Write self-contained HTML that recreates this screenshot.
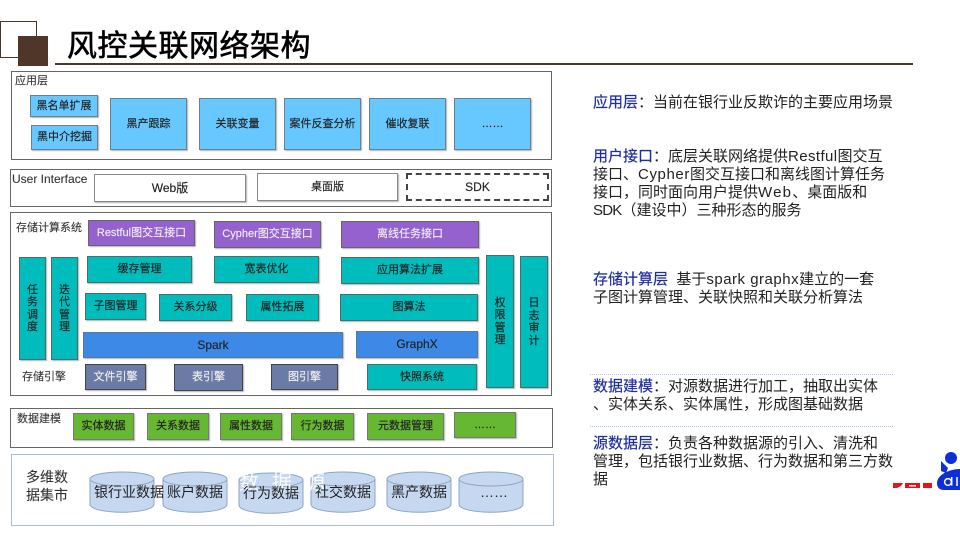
<!DOCTYPE html>
<html lang="zh">
<head>
<meta charset="utf-8">
<style>
html,body{margin:0;padding:0;background:#fff}
#p{position:relative;width:960px;height:540px;overflow:hidden;background:#fff;font-family:"Liberation Sans","Noto Sans CJK SC",sans-serif;color:#222;filter:blur(.3px)}
.b{position:absolute;box-sizing:border-box;display:flex;align-items:center;justify-content:center;font-size:11px;text-align:center;line-height:13px;box-shadow:1px 1px 1px rgba(0,0,0,.3);-webkit-text-stroke:.15px currentColor}
.l{font-size:12px}
.f{position:absolute;box-sizing:border-box;border:1px solid #666}
.t{position:absolute;font-size:11px;line-height:14px;white-space:nowrap;color:#333;-webkit-text-stroke:.1px currentColor}
.blue{background:#66c8ff;border:1px solid #6b7f8c}
.w{background:#fff;border:1px solid #888}
.pu{background:#9461cf;border:1px solid #666;color:#eee}
.te{background:#00bdbd;border:1px solid #4d6d6d}
.sp{background:#3c89e8;border:1px solid #5b7894}
.gr{background:#6a7ba6;border:1px solid #444;color:#eee}
.gn{background:#66b832;border:1px solid #777}
.v{width:12px;line-height:12.5px;white-space:normal}
.r{position:absolute;left:593px;font-size:15px;line-height:18px;white-space:nowrap;color:#222}
.r b{font-weight:normal;color:#1f2f9e;-webkit-text-stroke:.2px #1f2f9e}
.dot{position:absolute;left:590px;width:303px;height:0;border-top:1px dotted #a9c3e6}
.c{position:absolute;font-size:14px;line-height:18px;white-space:nowrap;color:#222}
</style>
</head>
<body>
<div id="p">
<div style="position:absolute;left:0;top:21px;width:37px;height:37px;box-sizing:border-box;border:1px solid #4f3629"></div>
<div style="position:absolute;left:18px;top:36px;width:30px;height:30px;background:#4f3629"></div>
<div style="position:absolute;left:55px;top:63px;width:858px;height:2px;background:#4f3629"></div>
<div style="position:absolute;left:67px;top:29px;font-size:30px;line-height:36px;letter-spacing:.5px;color:#000;white-space:nowrap;-webkit-text-stroke:.6px #000">风控关联网络架构</div>

<div class="f" style="left:11px;top:71px;width:541px;height:89px"></div>
<div class="t" style="left:15px;top:74px">应用层</div>
<div class="b blue" style="left:30px;top:95px;width:68px;height:22px">黑名单扩展</div>
<div class="b blue" style="left:31px;top:125px;width:67px;height:25px">黑中介挖掘</div>
<div class="b blue" style="left:110px;top:98px;width:77px;height:52px">黑产跟踪</div>
<div class="b blue" style="left:199px;top:98px;width:77px;height:52px">关联变量</div>
<div class="b blue" style="left:284px;top:98px;width:77px;height:52px">案件反查分析</div>
<div class="b blue" style="left:369px;top:98px;width:77px;height:52px">催收复联</div>
<div class="b blue" style="left:454px;top:98px;width:77px;height:52px">……</div>

<div class="f" style="left:10px;top:169px;width:542px;height:38px"></div>
<div class="t" style="left:12px;top:172px;font-size:12px">User Interface</div>
<div class="b w l" style="left:94px;top:174px;width:152px;height:28px">Web版</div>
<div class="b w" style="left:257px;top:173px;width:141px;height:28px">桌面版</div>
<div class="b l" style="left:406px;top:173px;width:143px;height:28px;border:2px dashed #444;box-shadow:none">SDK</div>

<div class="f" style="left:10px;top:212px;width:542px;height:184px"></div>
<div class="t" style="left:16px;top:221px">存储计算系统</div>
<div class="b pu" style="left:88px;top:220px;width:107px;height:26px">Restful图交互接口</div>
<div class="b pu" style="left:214px;top:221px;width:107px;height:27px">Cypher图交互接口</div>
<div class="b pu" style="left:341px;top:221px;width:138px;height:27px">离线任务接口</div>
<div class="b te" style="left:19px;top:257px;width:27px;height:103px"><span class="v">任务调度</span></div>
<div class="b te" style="left:51px;top:257px;width:27px;height:103px"><span class="v">迭代管理</span></div>
<div class="b te" style="left:87px;top:256px;width:105px;height:27px">缓存管理</div>
<div class="b te" style="left:214px;top:256px;width:105px;height:27px">宽表优化</div>
<div class="b te" style="left:341px;top:257px;width:138px;height:27px">应用算法扩展</div>
<div class="b te" style="left:85px;top:293px;width:61px;height:27px">子图管理</div>
<div class="b te" style="left:159px;top:294px;width:73px;height:27px">关系分级</div>
<div class="b te" style="left:246px;top:294px;width:73px;height:27px">属性拓展</div>
<div class="b te" style="left:340px;top:294px;width:138px;height:27px">图算法</div>
<div class="b sp l" style="left:83px;top:332px;width:260px;height:26px">Spark</div>
<div class="b sp l" style="left:356px;top:331px;width:122px;height:27px">GraphX</div>
<div class="t" style="left:22px;top:370px">存储引擎</div>
<div class="b gr" style="left:85px;top:364px;width:61px;height:26px">文件引擎</div>
<div class="b gr" style="left:174px;top:364px;width:69px;height:27px">表引擎</div>
<div class="b gr" style="left:271px;top:364px;width:67px;height:26px">图引擎</div>
<div class="b te" style="left:367px;top:364px;width:110px;height:26px">快照系统</div>
<div class="b te" style="left:486px;top:255px;width:28px;height:133px"><span class="v">权限管理</span></div>
<div class="b te" style="left:520px;top:256px;width:28px;height:132px"><span class="v">日志审计</span></div>

<div class="f" style="left:10px;top:408px;width:543px;height:40px"></div>
<div class="t" style="left:17px;top:412px">数据建模</div>
<div class="b gn" style="left:73px;top:413px;width:61px;height:27px">实体数据</div>
<div class="b gn" style="left:147px;top:413px;width:62px;height:27px">关系数据</div>
<div class="b gn" style="left:220px;top:413px;width:62px;height:27px">属性数据</div>
<div class="b gn" style="left:291px;top:413px;width:63px;height:27px">行为数据</div>
<div class="b gn" style="left:367px;top:413px;width:77px;height:27px">元数据管理</div>
<div class="b gn" style="left:454px;top:412px;width:62px;height:26px">……</div>

<div class="f" style="left:11px;top:454px;width:543px;height:72px;border-color:#a9bdd6"></div>
<div class="t" style="left:26px;top:468px;font-size:14px;line-height:18px;white-space:normal;width:44px">多维数据集市</div>

<svg width="960" height="540" style="position:absolute;left:0;top:0">
<g fill="#c5d8f0" stroke="#8aa5c8" stroke-width="1">
<path d="M90 480v24c0 11 64 11 64 0v-24z"/><ellipse cx="122" cy="479" rx="32" ry="7"/>
<path d="M163 480v24c0 11 64 11 64 0v-24z"/><ellipse cx="195" cy="479" rx="32" ry="7"/>
<path d="M239 481v24c0 11 64 11 64 0v-24z"/><ellipse cx="271" cy="480" rx="32" ry="7"/>
<path d="M311 480v24c0 11 64 11 64 0v-24z"/><ellipse cx="343" cy="479" rx="32" ry="7"/>
<path d="M387 480v24c0 11 64 11 64 0v-24z"/><ellipse cx="419" cy="479" rx="32" ry="7"/>
<path d="M459 480v24c0 11 64 11 64 0v-24z"/><ellipse cx="491" cy="479" rx="32" ry="7"/>
</g>
<g fill="#0d2fd8">
<circle cx="951" cy="458" r="6"/>
<path d="M941 461l7 7-2 5-5-2z"/>
<path d="M960 469c-11 0-23 6-23 14 0 5 3 7 7 7h16z"/>
</g>
<g fill="none" stroke="#fff" stroke-width="1.5">
<circle cx="948" cy="482" r="3.4"/>
<path d="M951.7 477v8.500"/>
<path d="M957 477v9"/>
</g>
<g fill="#e0141c">
<path d="M893 483h10l-2 3-4 2h-4z"/>
<path d="M905 483h15v5h-15z"/>
<path d="M923 483h9v5h-9z"/>
</g>
<rect x="909" y="485" width="7" height="1.5" fill="#fff"/>
</svg>

<div class="t" style="left:239px;top:469px;font-size:20px;line-height:28px;letter-spacing:13px;color:#fff;opacity:.9;-webkit-text-stroke:0">数据源</div>
<div class="c" style="left:94px;top:483px">银行业数据</div>
<div class="c" style="left:167px;top:483px">账户数据</div>
<div class="c" style="left:243px;top:484px">行为数据</div>
<div class="c" style="left:315px;top:483px">社交数据</div>
<div class="c" style="left:391px;top:483px">黑产数据</div>
<div class="c" style="left:480px;top:483px">……</div>

<div class="r" style="top:94px"><b>应用层</b>：当前在银行业反欺诈的主要应用场景</div>
<div class="r" style="top:148px"><b>用户接口</b>：底层关联网络提供<span style="letter-spacing:.4px">Restful</span>图交互</div>
<div class="r" style="top:166px">接口、<span style="letter-spacing:.6px">Cypher</span>图交互接口和离线图计算任务</div>
<div class="r" style="top:184px">接口，同时面向用户提供<span style="letter-spacing:1.2px">Web</span>、桌面版和</div>
<div class="r" style="top:202px"><span style="letter-spacing:-.8px">SDK</span>（建设中）三种形态的服务</div>
<div class="r" style="top:271px"><b>存储计算层</b>&nbsp;&nbsp;基于<span style="letter-spacing:.5px">spark graphx</span>建立的一套</div>
<div class="r" style="top:289px">子图计算管理、关联快照和关联分析算法</div>
<div class="dot" style="top:374px"></div>
<div class="r" style="top:378px"><b>数据建模</b>：对源数据进行加工，抽取出实体</div>
<div class="r" style="top:396px">、实体关系、实体属性，形成图基础数据</div>
<div class="dot" style="top:426px"></div>
<div class="r" style="top:435px"><b>源数据层</b>：负责各种数据源的引入、清洗和</div>
<div class="r" style="top:453px">管理，包括银行业数据、行为数据和第三方数</div>
<div class="r" style="top:471px">据</div>
</div>
</body>
</html>
